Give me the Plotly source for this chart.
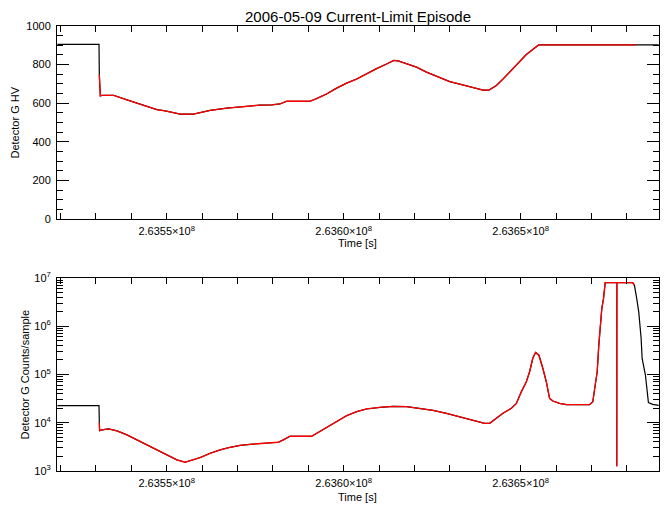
import plotly.graph_objects as go

# ---------------- data ----------------
hv_time = [263519110, 263530874, 263530958, 263531043, 263531240, 263531720, 263534992,
           263538772, 263541593, 263544414, 263547235, 263549577, 263552398, 263553808,
           263557560, 263560381, 263562271, 263566982, 263572145, 263576376, 263579677,
           263582018, 263583908, 263590481, 263592371, 263595192, 263598013, 263600834,
           263603655, 263606476, 263609297, 263612118, 263614177, 263615390, 263617760,
           263620581, 263623402, 263626223, 263629975, 263632796, 263633727, 263637028,
           263639369, 263641062, 263643149, 263645011, 263648791, 263651612, 263655082,
           263682643, 263689019]
hv_value = [905, 905, 747, 660, 638, 641, 641,
            617, 600, 582, 567, 560, 549, 543,
            543, 556, 563, 574, 582, 590, 591,
            596, 610, 610, 624, 648, 678, 704,
            725, 753, 779, 803, 822, 819, 806,
            787, 761, 739, 712, 699, 695, 680,
            668, 668, 692, 725, 800, 852, 902,
            902, 902]

cnt_time = [263519110, 263530874, 263530958, 263531043, 263531720, 263533582, 263535952,
            263538772, 263541593, 263544414, 263547235, 263550056, 263552877, 263555219,
            263556629, 263559450, 263562271, 263565092, 263567913, 263570734, 263573555,
            263577307, 263581539, 263582949, 263584839, 263590961, 263592371, 263595192,
            263598013, 263600834, 263603655, 263606476, 263610228, 263613980, 263617760,
            263621512, 263625264, 263629044, 263633727, 263637507, 263639849, 263641260,
            263643149, 263645011, 263647381, 263648791, 263650201, 263651612, 263652543,
            263653474, 263654235, 263655166, 263656294, 263657253, 263658184, 263659115,
            263661004, 263662894, 263669467, 263670398, 263671075, 263671639, 263672090,
            263672485, 263672937, 263673417, 263673896, 263677140, 263677168, 263677196,
            263681682, 263682161, 263682810, 263683374, 263684051, 263684333, 263685264,
            263685744, 263686110, 263687323, 263689019]
cnt_value = [22600, 22600, 10000, 6870, 7110, 7450, 6780,
             5600, 4420, 3480, 2740, 2160, 1700, 1520,
             1620, 1900, 2330, 2740, 3100, 3410, 3580,
             3760, 3940, 4420, 5250, 5250, 6040, 8200,
             10900, 14000, 17000, 19300, 20800, 21900, 21500,
             19900, 18100, 15700, 12900, 10900, 9730, 9730,
             12400, 15700, 19900, 25100, 43700, 70800, 114000,
             222000, 286000, 251000, 133000, 70800, 32000, 28200,
             25200, 23700, 23700, 27400, 60500, 114000, 406000,
             1050000, 2320000, 3730000, 8000000, 8000000, 1260, 8000000,
             8000000, 7060000, 3730000, 1980000, 556000, 215000, 97500,
             44000, 26100, 24000, 22900]

episode_start = 263530950
episode_end = 263682700

x_range = [263519000, 263689100]
x_tick_vals = [263550000, 263600000, 263650000]
x_tick_text = ["2.6355×10<sup>8</sup>", "2.6360×10<sup>8</sup>", "2.6365×10<sup>8</sup>"]
x_minor_vals = [263520000 + 10000 * i for i in range(17)]
hv_ticks = [0, 200, 400, 600, 800, 1000]
cnt_ticks = [1e3, 1e4, 1e5, 1e6, 1e7]
cnt_tick_text = ["10<sup>3</sup>", "10<sup>4</sup>", "10<sup>5</sup>", "10<sup>6</sup>", "10<sup>7</sup>"]

title_text = "2006-05-09 Current-Limit Episode"
hv_label = "Detector G HV"
cnt_label = "Detector G Counts/sample"
time_label = "Time [s]"

# ---------------- figure ----------------
FONT = "Liberation Sans, Arial, sans-serif"


def subset(ts, vs):
    xs, ys = [], []
    for t, v in zip(ts, vs):
        if episode_start <= t <= episode_end:
            xs.append(t)
            ys.append(v)
    return xs, ys


fig = go.Figure()
fig.add_trace(go.Scatter(x=hv_time, y=hv_value, mode="lines",
                         line=dict(color="black", width=1.2), xaxis="x", yaxis="y"))
rx, ry = subset(hv_time, hv_value)
fig.add_trace(go.Scatter(x=rx, y=ry, mode="lines",
                         line=dict(color="#ff0000", width=1.3), xaxis="x", yaxis="y"))
fig.add_trace(go.Scatter(x=cnt_time, y=cnt_value, mode="lines",
                         line=dict(color="black", width=1.2), xaxis="x2", yaxis="y2"))
rx, ry = subset(cnt_time, cnt_value)
fig.add_trace(go.Scatter(x=rx, y=ry, mode="lines",
                         line=dict(color="#ff0000", width=1.3), xaxis="x2", yaxis="y2"))

xcommon = dict(range=x_range, tickmode="array", tickvals=x_tick_vals, ticktext=x_tick_text,
               ticks="inside", ticklen=6, tickwidth=1, tickcolor="black",
               minor=dict(tickmode="array", tickvals=x_minor_vals, ticks="inside", ticklen=6,
                          tickwidth=1, tickcolor="black", showgrid=False),
               showline=True, linecolor="black", linewidth=1, mirror="ticks",
               showgrid=False, zeroline=False, automargin=False,
               tickfont=dict(size=11, family=FONT, color="black"),
               ticklabelstandoff=2)

hv_minor = [v for v in range(0, 1001, 50) if v % 200 != 0]
cnt_minor = [m * 10 ** e for e in range(3, 7) for m in range(2, 10)]

fig.update_layout(
    width=670, height=511,
    margin=dict(l=57, r=11, t=26, b=40, autoexpand=False),
    paper_bgcolor="white", plot_bgcolor="white",
    showlegend=False,
    font=dict(family=FONT, size=11, color="black"),
    title=dict(text=title_text, x=0.5, xref="paper", y=1 - 17 / 511, yanchor="middle",
               font=dict(size=15, family=FONT, color="black")),
    xaxis=dict(domain=[0, 1], anchor="y", **xcommon),
    xaxis2=dict(domain=[0, 1], anchor="y2", **xcommon),
    yaxis=dict(domain=[193 / 445 + 59 / 445, 1], anchor="x", range=[0, 1000],
               tickmode="array", tickvals=hv_ticks,
               ticks="inside", ticklen=12, tickwidth=1, tickcolor="black",
               minor=dict(tickmode="array", tickvals=hv_minor, ticks="inside", ticklen=6,
                          tickwidth=1, tickcolor="black", showgrid=False),
               showline=True, linecolor="black", linewidth=1, mirror="ticks",
               showgrid=False, zeroline=False, automargin=False, ticklabelstandoff=3,
               tickfont=dict(size=11, family=FONT, color="black")),
    yaxis2=dict(domain=[0, 193 / 445], anchor="x2", type="log", range=[3, 7],
                tickmode="array", tickvals=cnt_ticks, ticktext=cnt_tick_text,
                ticks="inside", ticklen=12, tickwidth=1, tickcolor="black",
                minor=dict(tickmode="array", tickvals=cnt_minor, ticks="inside", ticklen=6,
                           tickwidth=1, tickcolor="black", showgrid=False),
                showline=True, linecolor="black", linewidth=1, mirror="ticks",
                showgrid=False, zeroline=False, automargin=False, ticklabelstandoff=3,
                tickfont=dict(size=11, family=FONT, color="black")),
)

ann = dict(showarrow=False, font=dict(size=11, family=FONT, color="black"))
fig.add_annotation(text=hv_label, xref="paper", yref="paper", x=(14 - 57) / 602,
                   y=(471 - 122.5) / 445, textangle=-90, xanchor="center", yanchor="middle", **ann)
fig.add_annotation(text=cnt_label, xref="paper", yref="paper", x=(24 - 57) / 602,
                   y=(471 - 374.5) / 445, textangle=-90, xanchor="center", yanchor="middle", **ann)
fig.add_annotation(text=time_label, xref="paper", yref="paper", x=(357 - 57) / 602,
                   y=(471 - 243) / 445, xanchor="center", yanchor="middle", **ann)
fig.add_annotation(text=time_label, xref="paper", yref="paper", x=(357 - 57) / 602,
                   y=(471 - 497) / 445, xanchor="center", yanchor="middle", **ann)

fig.write_html("out.html", config={"displayModeBar": False},
               post_script="document.body.style.margin='0';document.body.style.overflow='hidden';")
